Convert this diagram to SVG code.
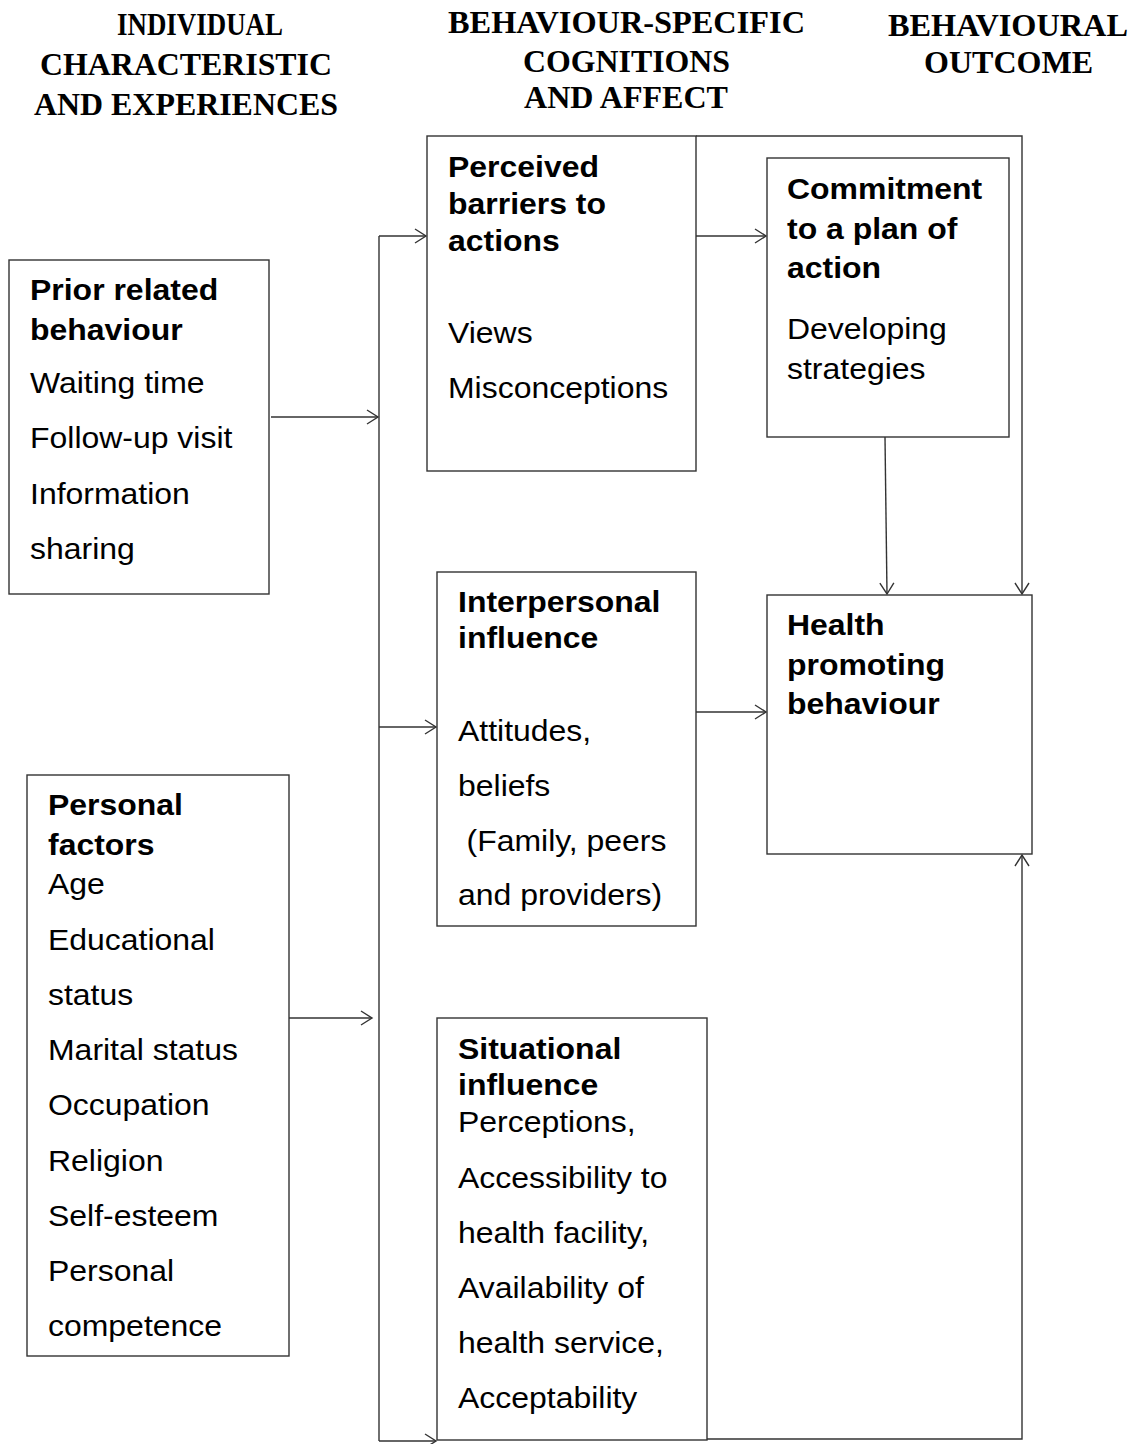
<svg xmlns="http://www.w3.org/2000/svg" width="1133" height="1444" viewBox="0 0 1133 1444">
<defs>
<style>
.box{fill:#fff;stroke:#333;stroke-width:1.4}
.ln{fill:none;stroke:#333;stroke-width:1.4}
.hd{font-family:"Liberation Serif","Times New Roman",serif;font-weight:bold;font-size:32px;fill:#000}
.b{font-family:"Liberation Sans",Arial,sans-serif;font-weight:bold;font-size:30px;fill:#000}
.t{font-family:"Liberation Sans",Arial,sans-serif;font-size:30px;fill:#000}
</style>
<marker id="ah" markerWidth="14" markerHeight="18" refX="12" refY="9" orient="auto" markerUnits="userSpaceOnUse">
<path d="M1,2 L12,9 L1,16" fill="none" stroke="#333" stroke-width="1.4"/>
</marker>
</defs>
<rect width="1133" height="1444" fill="#fff"/>
<g id="headers">
<text class="hd" x="117" y="35" textLength="166" lengthAdjust="spacingAndGlyphs">INDIVIDUAL</text>
<text class="hd" x="40" y="75" textLength="292" lengthAdjust="spacingAndGlyphs">CHARACTERISTIC</text>
<text class="hd" x="34" y="115" textLength="304" lengthAdjust="spacingAndGlyphs">AND EXPERIENCES</text>
<text class="hd" x="448" y="33" textLength="357" lengthAdjust="spacingAndGlyphs">BEHAVIOUR-SPECIFIC</text>
<text class="hd" x="523" y="72" textLength="207" lengthAdjust="spacingAndGlyphs">COGNITIONS</text>
<text class="hd" x="524" y="108" textLength="204" lengthAdjust="spacingAndGlyphs">AND AFFECT</text>
<text class="hd" x="888" y="36" textLength="240" lengthAdjust="spacingAndGlyphs">BEHAVIOURAL</text>
<text class="hd" x="924" y="73" textLength="169" lengthAdjust="spacingAndGlyphs">OUTCOME</text>
</g>
<g id="connectors">
<line class="ln" x1="379" y1="236" x2="379" y2="1441"/>
<line class="ln" x1="271" y1="417" x2="378" y2="417" marker-end="url(#ah)"/>
<line class="ln" x1="289" y1="1018" x2="372" y2="1018" marker-end="url(#ah)"/>
<line class="ln" x1="379" y1="236" x2="426" y2="236" marker-end="url(#ah)"/>
<line class="ln" x1="379" y1="727" x2="436" y2="727" marker-end="url(#ah)"/>
<line class="ln" x1="379" y1="1441" x2="436" y2="1441" marker-end="url(#ah)"/>
<line class="ln" x1="696" y1="236" x2="766" y2="236" marker-end="url(#ah)"/>
<polyline class="ln" points="696,136 1022,136 1022,594" marker-end="url(#ah)"/>
<line class="ln" x1="885" y1="437" x2="887" y2="594" marker-end="url(#ah)"/>
<line class="ln" x1="696" y1="712" x2="766" y2="712" marker-end="url(#ah)"/>
<polyline class="ln" points="707,1439 1022,1439 1022,855" marker-end="url(#ah)"/>
</g>
<g id="perceived">
<rect class="box" x="427" y="136" width="269" height="335"/>
<g transform="translate(448 0) scale(1.065 1)">
<text class="b" x="0" y="177">Perceived</text>
<text class="b" x="0" y="214">barriers to</text>
<text class="b" x="0" y="251">actions</text>
<text class="t" x="0" y="343">Views</text>
<text class="t" x="0" y="398">Misconceptions</text>
</g>
</g>
<g id="commitment">
<rect class="box" x="767" y="158" width="242" height="279"/>
<g transform="translate(787 0) scale(1.065 1)">
<text class="b" x="0" y="199">Commitment</text>
<text class="b" x="0" y="239">to a plan of</text>
<text class="b" x="0" y="278">action</text>
<text class="t" x="0" y="339">Developing</text>
<text class="t" x="0" y="379">strategies</text>
</g>
</g>
<g id="prior">
<rect class="box" x="9" y="260" width="260" height="334"/>
<g transform="translate(30 0) scale(1.065 1)">
<text class="b" x="0" y="300">Prior related</text>
<text class="b" x="0" y="340">behaviour</text>
<text class="t" x="0" y="393">Waiting time</text>
<text class="t" x="0" y="448">Follow-up visit</text>
<text class="t" x="0" y="504">Information</text>
<text class="t" x="0" y="559">sharing</text>
</g>
</g>
<g id="interpersonal">
<rect class="box" x="437" y="572" width="259" height="354"/>
<g transform="translate(458 0) scale(1.065 1)">
<text class="b" x="0" y="612">Interpersonal</text>
<text class="b" x="0" y="648">influence</text>
<text class="t" x="0" y="741">Attitudes,</text>
<text class="t" x="0" y="796">beliefs</text>
<text class="t" x="8" y="851">(Family, peers</text>
<text class="t" x="0" y="905">and providers)</text>
</g>
</g>
<g id="health">
<rect class="box" x="767" y="595" width="265" height="259"/>
<g transform="translate(787 0) scale(1.065 1)">
<text class="b" x="0" y="635">Health</text>
<text class="b" x="0" y="675">promoting</text>
<text class="b" x="0" y="714">behaviour</text>
</g>
</g>
<g id="personal">
<rect class="box" x="27" y="775" width="262" height="581"/>
<g transform="translate(48 0) scale(1.065 1)">
<text class="b" x="0" y="815">Personal</text>
<text class="b" x="0" y="855">factors</text>
<text class="t" x="0" y="894">Age</text>
<text class="t" x="0" y="950">Educational</text>
<text class="t" x="0" y="1005">status</text>
<text class="t" x="0" y="1060">Marital status</text>
<text class="t" x="0" y="1115">Occupation</text>
<text class="t" x="0" y="1171">Religion</text>
<text class="t" x="0" y="1226">Self-esteem</text>
<text class="t" x="0" y="1281">Personal</text>
<text class="t" x="0" y="1336">competence</text>
</g>
</g>
<g id="situational">
<rect class="box" x="437" y="1018" width="270" height="422"/>
<g transform="translate(458 0) scale(1.065 1)">
<text class="b" x="0" y="1059">Situational</text>
<text class="b" x="0" y="1095">influence</text>
<text class="t" x="0" y="1132">Perceptions,</text>
<text class="t" x="0" y="1188">Accessibility to</text>
<text class="t" x="0" y="1243">health facility,</text>
<text class="t" x="0" y="1298">Availability of</text>
<text class="t" x="0" y="1353">health service,</text>
<text class="t" x="0" y="1408">Acceptability</text>
</g>
</g>
</svg>
